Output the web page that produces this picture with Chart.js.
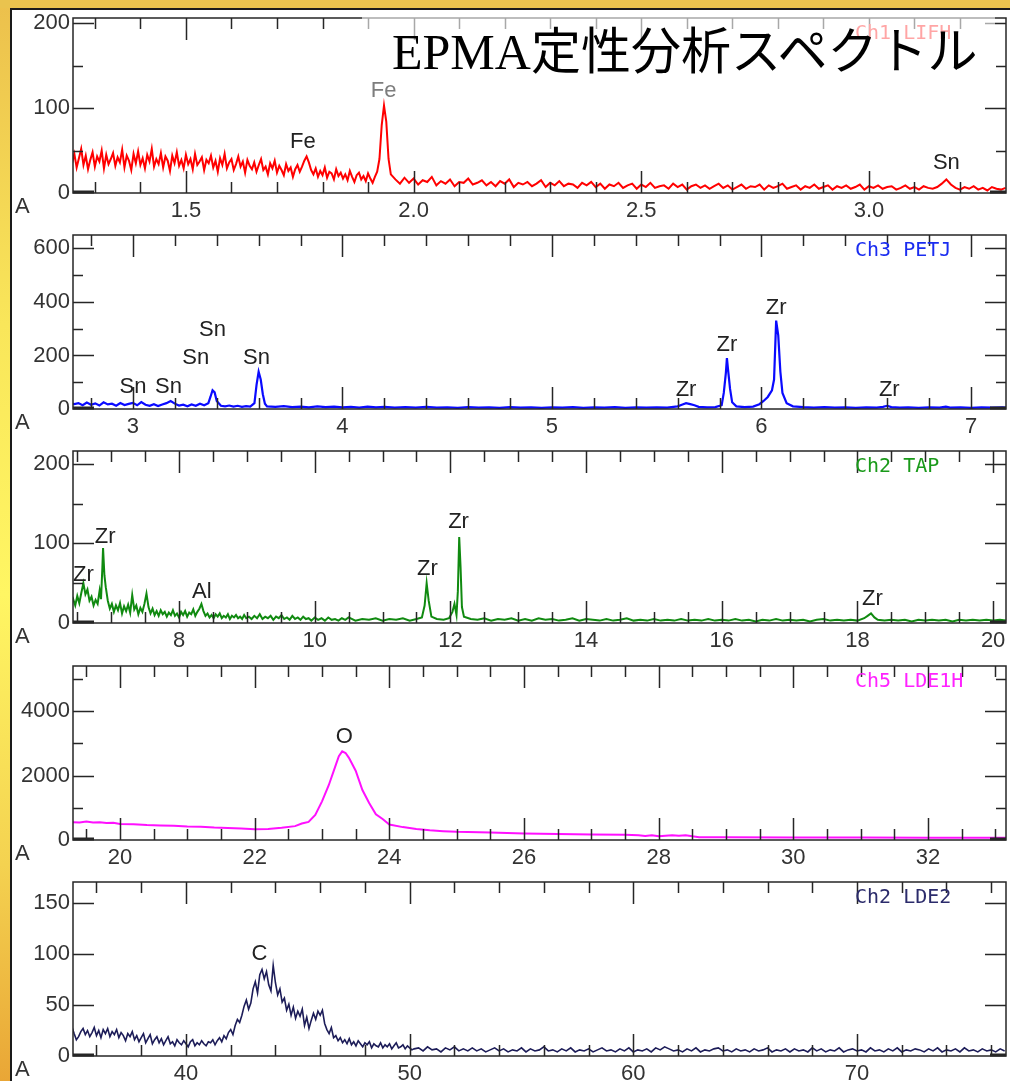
<!DOCTYPE html>
<html>
<head>
<meta charset="utf-8">
<title>EPMA定性分析スペクトル</title>
<script src="https://cdn.jsdelivr.net/npm/chart.js@4.4.1/dist/chart.umd.min.js"></script>
<style>
  html, body { margin: 0; padding: 0; }
  body {
    width: 1010px; height: 1081px; overflow: hidden; position: relative;
    background: linear-gradient(to bottom, #ecc04c 0%, #f9e65a 30%, #fff663 55%, #f4d250 80%, #e9a636 100%);
  }
  #topband { position: absolute; left: 0; top: 0; width: 1010px; height: 8px; background: #eac34e; }
  #sheet {
    position: absolute; left: 10px; top: 8px; width: 1000px; height: 1073px;
    background: #fff; border-left: 2px solid #1a1a1a; border-top: 2px solid #1a1a1a; box-sizing: border-box;
  }
  canvas { position: absolute; left: 0; }
  #veil { position: absolute; left: 362px; top: 10px; width: 633px; height: 68px; background: rgba(255,255,255,0.6); }
  #title {
    position: absolute; left: 392px; top: 27px; white-space: nowrap;
    font: 50px "Liberation Serif", "Noto Sans CJK JP"; line-height: 50px; color: #000;
  }
</style>
</head>
<body>
<div id="topband"></div>
<div id="sheet"></div>
<div id="wrap"></div>
<div id="veil"></div>
<div id="title">EPMA定性分析スペクトル</div>
<script>
// ---- Ch1 LIFH (red): counts every 0.005 from 1.25, then every 0.01 from 1.95
const lifhX0 = 1.25, lifhStep = 0.005;
const lifhY = [
  35,46,30,41,52,33,44,28,39,48,
  31,43,37,50,29,45,34,40,47,32,
  42,36,51,30,44,38,27,46,35,49,
  33,41,29,45,37,52,31,40,34,47,
  30,43,38,26,44,35,48,32,39,29,
  45,34,40,28,46,33,37,42,27,39,
  35,44,30,38,25,41,33,46,29,36,
  40,27,34,43,31,37,24,39,32,28,
  36,25,33,40,27,31,22,35,29,38,
  24,32,27,21,34,26,30,19,28,33,
  25,31,38,43,36,27,22,29,19,26,
  21,30,18,25,23,16,28,20,24,17,
  22,15,26,19,13,21,24,16,20,14,
  23,17,12,19,25,40,80,103,84,40
];
const lifhTailX0 = 1.95, lifhTailStep = 0.01;
const lifhTailY = [
  22,16,11,18,12,17,10,15,13,19,
  9,14,11,16,8,13,12,17,10,12,
  15,9,13,8,14,11,16,7,12,10,
  13,8,11,15,7,12,9,14,8,11,
  10,6,12,9,13,7,11,5,10,8,
  12,6,9,11,5,10,7,12,6,8,
  9,5,11,7,10,4,8,10,6,9,
  5,8,11,6,9,4,7,10,5,8,
  7,10,4,9,6,8,11,5,7,9,
  4,8,6,10,5,7,9,4,8,6,
  9,5,7,10,4,8,6,9,5,7,
  8,4,6,9,5,7,4,8,6,5,
  7,11,16,10,6,4,7,5,8,4,
  6,3,7,5,4,6
];
const lifhMajorX = [1.5, 2.0, 2.5, 3.0];
const lifhMinorX = [1.3,1.4,1.6,1.7,1.8,1.9,2.1,2.2,2.3,2.4,2.6,2.7,2.8,2.9,3.1,3.2];
const lifhMajorY = [0, 100, 200];
const lifhMinorY = [50, 150];
const lifhPeaks = [['Fe', 1.757, 60], ['Fe', 1.934, 120, '#7d7d7d'], ['Sn', 3.17, 35]];

// ---- Ch3 PETJ (blue), [x, counts]
const petj = [
  [2.71,20],[2.72,18],[2.74,22],[2.76,14],[2.78,24],[2.80,16],[2.82,21],[2.84,13],[2.86,25],[2.88,17],
  [2.90,20],[2.92,12],[2.94,22],[2.96,15],[2.98,19],[3.00,23],[3.02,14],[3.04,26],[3.06,16],[3.08,12],
  [3.10,18],[3.12,11],[3.14,17],[3.16,22],[3.18,30],[3.20,20],[3.22,13],[3.24,16],[3.26,10],[3.28,17],
  [3.30,12],[3.32,20],[3.34,14],[3.36,22],[3.37,45],[3.38,70],[3.39,62],[3.40,30],[3.42,12],[3.44,10],
  [3.46,13],[3.48,9],[3.50,12],[3.52,8],[3.54,11],[3.56,9],[3.58,22],[3.59,90],[3.60,139],[3.61,110],
  [3.62,55],[3.63,20],[3.64,10],[3.68,8],[3.72,11],[3.76,7],[3.80,9],[3.84,6],[3.88,10],[3.92,7],
  [3.96,9],[4.00,6],[4.04,8],[4.08,5],[4.12,9],[4.16,6],[4.20,8],[4.25,5],[4.30,7],[4.35,5],
  [4.40,8],[4.45,5],[4.50,6],[4.55,4],[4.60,7],[4.65,5],[4.70,6],[4.75,4],[4.80,7],[4.85,5],
  [4.90,6],[4.95,4],[5.00,6],[5.05,5],[5.10,7],[5.15,4],[5.20,6],[5.25,5],[5.30,7],[5.35,4],
  [5.40,6],[5.45,5],[5.50,6],[5.55,5],[5.60,10],[5.62,16],[5.64,22],[5.66,18],[5.68,14],[5.70,8],
  [5.74,6],[5.78,7],[5.81,14],[5.82,60],[5.83,135],[5.835,190],[5.84,150],[5.85,75],[5.86,25],[5.88,10],
  [5.92,7],[5.96,9],[5.99,18],[6.01,30],[6.03,45],[6.05,70],[6.06,110],[6.07,330],[6.08,275],[6.09,140],
  [6.10,60],[6.12,22],[6.15,10],[6.20,7],[6.25,5],[6.30,7],[6.35,5],[6.40,6],[6.45,4],[6.50,6],
  [6.55,5],[6.58,8],[6.60,12],[6.62,7],[6.66,5],[6.70,6],[6.75,4],[6.80,6],[6.85,5],[6.88,9],
  [6.90,5],[6.95,6],[7.00,4],[7.05,6],[7.10,5],[7.15,6],[7.17,5]
];
const petjMajorX = [3, 4, 5, 6, 7];
const petjMinorX = [2.8,3.2,3.4,3.6,3.8,4.2,4.4,4.6,4.8,5.2,5.4,5.6,5.8,6.2,6.4,6.6,6.8];
const petjMajorY = [0, 200, 400, 600];
const petjMinorY = [100, 300, 500];
const petjPeaks = [['Sn', 3.0, 83], ['Sn', 3.17, 83], ['Sn', 3.30, 189], ['Sn', 3.38, 295], ['Sn', 3.59, 189],
  ['Zr', 5.64, 70], ['Zr', 5.835, 238], ['Zr', 6.07, 378], ['Zr', 6.61, 70]];

// ---- Ch2 TAP (green), [x, counts]
const tap = [
  [6.43,28],[6.44,30],[6.47,22],[6.50,34],[6.53,25],[6.56,38],[6.59,50],[6.62,36],[6.65,42],[6.68,28],
  [6.71,33],[6.74,22],[6.77,29],[6.80,24],[6.83,41],[6.85,30],[6.87,70],[6.88,94],[6.90,60],[6.92,45],
  [6.95,28],[6.98,18],[7.01,24],[7.04,14],[7.07,22],[7.10,16],[7.13,25],[7.16,12],[7.19,21],[7.22,15],
  [7.25,23],[7.28,13],[7.31,35],[7.34,17],[7.37,22],[7.40,11],[7.43,19],[7.46,14],[7.49,24],[7.52,37],
  [7.55,20],[7.58,12],[7.61,18],[7.64,10],[7.67,15],[7.70,9],[7.73,16],[7.76,11],[7.79,14],[7.82,8],
  [7.85,13],[7.88,10],[7.91,16],[7.94,9],[7.97,12],[8.00,7],[8.03,14],[8.06,10],[8.09,15],[8.12,8],
  [8.15,13],[8.18,11],[8.21,17],[8.24,9],[8.27,14],[8.30,18],[8.33,24],[8.36,15],[8.39,9],[8.42,12],
  [8.45,7],[8.48,10],[8.51,6],[8.54,11],[8.57,8],[8.60,12],[8.63,6],[8.66,9],[8.69,7],[8.72,11],
  [8.75,5],[8.78,9],[8.81,7],[8.84,10],[8.87,6],[8.90,8],[8.93,5],[8.96,10],[8.99,6],[9.03,8],
  [9.07,5],[9.11,9],[9.15,6],[9.19,11],[9.23,5],[9.27,8],[9.31,6],[9.35,9],[9.39,4],[9.43,8],
  [9.47,6],[9.51,10],[9.55,5],[9.59,7],[9.63,4],[9.67,9],[9.71,5],[9.75,7],[9.79,4],[9.83,8],
  [9.87,5],[9.91,6],[9.95,3],[10.0,7],[10.05,4],[10.1,6],[10.15,3],[10.2,7],[10.25,4],[10.3,5],
  [10.35,3],[10.4,6],[10.45,4],[10.5,7],[10.6,3],[10.7,5],[10.8,4],[10.9,6],[11.0,3],[11.1,5],
  [11.2,4],[11.3,6],[11.4,3],[11.5,5],[11.58,7],[11.62,22],[11.65,50],[11.68,28],[11.72,8],[11.8,5],
  [11.9,4],[11.98,6],[12.03,14],[12.06,24],[12.09,10],[12.11,40],[12.13,108],[12.15,70],[12.17,20],[12.2,8],
  [12.3,5],[12.4,4],[12.5,6],[12.6,3],[12.7,5],[12.8,4],[12.9,6],[13.0,3],[13.1,5],[13.2,3],
  [13.3,6],[13.4,4],[13.5,5],[13.6,3],[13.7,4],[13.8,6],[13.9,3],[14.0,5],[14.1,4],[14.2,3],
  [14.3,5],[14.4,3],[14.5,4],[14.6,6],[14.7,3],[14.8,4],[14.9,3],[15.0,5],[15.1,3],[15.2,4],
  [15.3,3],[15.4,5],[15.5,3],[15.6,4],[15.7,3],[15.8,5],[15.9,3],[16.0,4],[16.1,3],[16.2,5],
  [16.3,3],[16.4,4],[16.5,2],[16.6,4],[16.7,3],[16.8,5],[16.9,3],[17.0,4],[17.1,3],[17.2,4],
  [17.3,2],[17.4,4],[17.5,5],[17.6,3],[17.7,4],[17.8,3],[17.9,4],[18.0,3],[18.1,6],[18.15,9],
  [18.2,12],[18.25,7],[18.3,4],[18.4,3],[18.5,4],[18.6,3],[18.7,4],[18.8,2],[18.9,4],[19.0,3],
  [19.1,4],[19.2,3],[19.3,4],[19.4,2],[19.5,4],[19.6,3],[19.7,4],[19.8,3],[19.9,4],[20.0,3],
  [20.1,4],[20.2,3]
];
const tapMajorX = [8, 10, 12, 14, 16, 18, 20];
const tapMinorX = [6.5,7,7.5,8.5,9,9.5,10.5,11,11.5,12.5,13,13.5,14.5,15,15.5,16.5,17,17.5,18.5,19,19.5];
const tapMajorY = [0, 100, 200];
const tapMinorY = [50, 150];
const tapPeaks = [['Zr', 6.59, 60], ['Zr', 6.91, 108], ['Al', 8.335, 39], ['Zr', 11.66, 68], ['Zr', 12.12, 127], ['Zr', 18.22, 30]];

// ---- Ch5 LDE1H (magenta), [x, counts]
const lde1h = [
  [19.29,555],[19.4,545],[19.5,575],[19.6,540],[19.7,552],[19.8,525],[19.9,535],[20.0,500],[20.2,490],[20.4,465],
  [20.6,450],[20.8,440],[21.0,420],[21.2,410],[21.4,385],[21.6,372],[21.8,355],[22.0,335],[22.2,345],[22.4,380],
  [22.6,430],[22.7,510],[22.8,560],[22.9,780],[23.0,1200],[23.1,1700],[23.2,2300],[23.25,2600],[23.3,2750],[23.35,2700],
  [23.4,2550],[23.5,2150],[23.6,1550],[23.7,1150],[23.8,800],[23.9,650],[24.0,480],[24.2,400],[24.4,340],[24.6,300],
  [24.8,275],[25.0,255],[25.5,230],[26.0,205],[26.5,185],[27.0,170],[27.5,160],[27.7,150],[27.8,125],[27.9,150],
  [28.0,120],[28.2,150],[28.3,130],[28.4,150],[28.5,115],[28.6,85],[29.0,85],[30.0,80],[31.0,78],[32.0,72],
  [33.2,70]
];
const lde1hMajorX = [20, 22, 24, 26, 28, 30, 32];
const lde1hMinorX = [19.5,20.5,21,21.5,22.5,23,23.5,24.5,25,25.5,26.5,27,27.5,28.5,29,29.5,30.5,31,31.5,32.5,33];
const lde1hMajorY = [0, 2000, 4000];
const lde1hMinorY = [1000, 3000, 5000];
const lde1hPeaks = [['O', 23.33, 3184]];

// ---- Ch2 LDE2 (navy): counts every 0.1 from 34.8, then every 0.2 from 50.2
const lde2X0 = 34.8, lde2Step = 0.1;
const lde2Y = [
  26,29,22,16,19,24,27,21,25,19,
  23,28,20,25,18,26,22,27,19,24,
  21,26,18,23,20,15,22,19,24,16,
  20,14,18,22,13,17,21,12,16,19,
  13,17,11,15,19,12,14,10,16,13,
  11,15,12,9,14,16,10,13,11,15,
  12,10,14,13,16,11,15,18,14,20,
  17,23,26,21,30,36,33,40,49,55,
  46,52,66,73,62,80,85,76,83,70,
  64,89,72,60,66,53,57,45,51,40,
  48,37,44,39,46,30,38,27,35,42,
  36,44,40,45,32,26,22,28,18,20,
  15,18,13,16,12,17,11,14,10,15,
  12,9,13,11,14,8,12,10,9,13,
  8,11,9,12,7,10,13,8,9,11,
  7,10,8,6
];
const lde2TailX0 = 50.2, lde2TailStep = 0.2;
const lde2TailY = [
  7,8,5,9,
  6,7,4,8,6,9,5,7,5,8,
  5,7,4,6,8,5,7,4,6,5,
  8,4,7,5,6,9,5,6,4,7,
  5,8,4,6,5,7,4,6,8,5,
  6,4,7,5,8,4,6,5,7,4,
  8,6,9,7,5,6,4,7,5,8,
  4,6,5,7,8,5,6,4,7,5,
  6,4,7,5,6,8,4,6,5,7,
  4,7,5,6,4,8,5,7,4,6,
  5,8,4,6,7,5,6,4,8,5,
  6,4,7,5,8,4,6,5,7,6,
  4,7,5,8,4,6,5,7,4,8,
  5,6,4,7,5,6,4,7,5
];
const lde2MajorX = [40, 50, 60, 70];
const lde2MinorX = [36,38,42,44,46,48,52,54,56,58,62,64,66,68,72,74,76];
const lde2MajorY = [0, 50, 100, 150];
const lde2MinorY = [];
const lde2Peaks = [['C', 43.28, 100]];

const PAD_TOP = 14, X_AXIS_H = 32;
const FONT = '"Liberation Sans", Arial, sans-serif';

function uniform(x0, step, ys) {
  return ys.map((v, i) => ({ x: +(x0 + i * step).toFixed(3), y: v }));
}
function pairs(arr) {
  return arr.map(([x, y]) => ({ x, y }));
}

// frame, inward ticks, peak names and channel label
function framePlugin(p) {
  return {
    id: 'frame',
    afterDatasetsDraw(chart) {
      const { ctx, chartArea: a, scales: { x, y } } = chart;
      ctx.save();
      ctx.strokeStyle = '#262626';
      ctx.lineWidth = 1.5;
      ctx.strokeRect(a.left, a.top, a.right - a.left, a.bottom - a.top);
      ctx.beginPath();
      const xt = (v, len) => {
        const px = Math.round(x.getPixelForValue(v)) + 0.5;
        ctx.moveTo(px, a.top); ctx.lineTo(px, a.top + len);
        ctx.moveTo(px, a.bottom); ctx.lineTo(px, a.bottom - len);
      };
      const yt = (v, len) => {
        const py = Math.round(y.getPixelForValue(v)) + 0.5;
        ctx.moveTo(a.left, py); ctx.lineTo(a.left + len, py);
        ctx.moveTo(a.right, py); ctx.lineTo(a.right - len, py);
      };
      p.xMajor.forEach(v => xt(v, 22));
      p.xMinor.forEach(v => xt(v, 11));
      p.yMajor.filter(v => v > 0).forEach(v => yt(v, 21));
      p.yMinor.forEach(v => yt(v, 10));
      ctx.stroke();
      ctx.lineWidth = 3;
      ctx.beginPath();
      ctx.moveTo(a.left, a.bottom - 1); ctx.lineTo(a.left + 21, a.bottom - 1);
      ctx.moveTo(a.right - 16, a.bottom - 1); ctx.lineTo(a.right, a.bottom - 1);
      ctx.stroke();

      ctx.textAlign = 'center';
      ctx.textBaseline = 'middle';
      ctx.font = '22px ' + FONT;
      p.peaks.forEach(([t, vx, vy, c]) => {
        ctx.fillStyle = c || '#222';
        ctx.fillText(t, x.getPixelForValue(vx), y.getPixelForValue(vy));
      });
      ctx.textAlign = 'left';
      ctx.fillStyle = '#333';
      ctx.fillText('A', 15, a.bottom + 14);
      ctx.font = '20px "DejaVu Sans Mono"';
      ctx.fillStyle = p.labelColor;
      ctx.fillText(p.channel, 855, a.top + 16);
      ctx.restore();
    }
  };
}

function makePanel(p) {
  const h = p.bottom - p.top + PAD_TOP + X_AXIS_H;
  const canvas = document.createElement('canvas');
  canvas.width = 1010;
  canvas.height = h;
  canvas.style.top = (p.top - PAD_TOP) + 'px';
  canvas.style.width = '1010px';
  canvas.style.height = h + 'px';
  document.getElementById('wrap').appendChild(canvas);

  const tickFont = { family: FONT, size: 22 };
  new Chart(canvas, {
    type: 'line',
    data: {
      datasets: [{
        data: p.data, borderColor: p.color, borderWidth: p.width,
        pointRadius: 0, tension: 0, fill: false
      }]
    },
    options: {
      responsive: false, animation: false, devicePixelRatio: 1,
      layout: { padding: { top: PAD_TOP, right: 4, left: 0, bottom: 0 } },
      plugins: { legend: { display: false }, tooltip: { enabled: false } },
      scales: {
        x: {
          type: 'linear', min: p.xMin, max: p.xMax,
          grid: { display: false, drawTicks: false }, border: { display: false },
          ticks: { font: tickFont, color: '#333', padding: 5, maxRotation: 0, autoSkip: false,
                   callback: v => p.xFmt(v) },
          afterBuildTicks: s => { s.ticks = p.xMajor.map(v => ({ value: v })); },
          afterFit: s => { s.height = X_AXIS_H; s.paddingLeft = 0; s.paddingRight = 0; }
        },
        y: {
          type: 'linear', min: 0, max: p.yMax,
          grid: { display: false, drawTicks: false }, border: { display: false },
          ticks: { font: tickFont, color: '#333', padding: 3, autoSkip: false, callback: v => String(v) },
          afterBuildTicks: s => { s.ticks = p.yMajor.map(v => ({ value: v })); },
          afterFit: s => { s.width = 73; s.paddingTop = 0; s.paddingBottom = 0; }
        }
      }
    },
    plugins: [framePlugin(p)]
  });
}

makePanel({ top: 18, bottom: 193, xMin: 1.252, xMax: 3.301, yMax: 206,
  data: uniform(lifhX0, lifhStep, lifhY).concat(uniform(lifhTailX0, lifhTailStep, lifhTailY)),
  color: '#ff0000', width: 2,
  xMajor: lifhMajorX, xMinor: lifhMinorX, yMajor: lifhMajorY, yMinor: lifhMinorY,
  xFmt: v => v.toFixed(1), peaks: lifhPeaks, channel: 'Ch1 LIFH', labelColor: '#ff2020' });

makePanel({ top: 235, bottom: 409, xMin: 2.714, xMax: 7.167, yMax: 650,
  data: pairs(petj), color: '#0a0aff', width: 2.2,
  xMajor: petjMajorX, xMinor: petjMinorX, yMajor: petjMajorY, yMinor: petjMinorY,
  xFmt: v => String(v), peaks: petjPeaks, channel: 'Ch3 PETJ', labelColor: '#1a2cf0' });

makePanel({ top: 451, bottom: 623, xMin: 6.437, xMax: 20.19, yMax: 216,
  data: pairs(tap), color: '#108a10', width: 2,
  xMajor: tapMajorX, xMinor: tapMinorX, yMajor: tapMajorY, yMinor: tapMinorY,
  xFmt: v => String(v), peaks: tapPeaks, channel: 'Ch2 TAP', labelColor: '#1a9a1a' });

makePanel({ top: 666, bottom: 840, xMin: 19.302, xMax: 33.158, yMax: 5400,
  data: pairs(lde1h), color: '#ff10ff', width: 2,
  xMajor: lde1hMajorX, xMinor: lde1hMinorX, yMajor: lde1hMajorY, yMinor: lde1hMinorY,
  xFmt: v => String(v), peaks: lde1hPeaks, channel: 'Ch5 LDE1H', labelColor: '#ff22ff' });

makePanel({ top: 882, bottom: 1056, xMin: 34.95, xMax: 76.66, yMax: 171,
  data: uniform(lde2X0, lde2Step, lde2Y).concat(uniform(lde2TailX0, lde2TailStep, lde2TailY)),
  color: '#1c1c58', width: 1.6,
  xMajor: lde2MajorX, xMinor: lde2MinorX, yMajor: lde2MajorY, yMinor: lde2MinorY,
  xFmt: v => String(v), peaks: lde2Peaks, channel: 'Ch2 LDE2', labelColor: '#2b2b6b' });
</script>
</body>
</html>
